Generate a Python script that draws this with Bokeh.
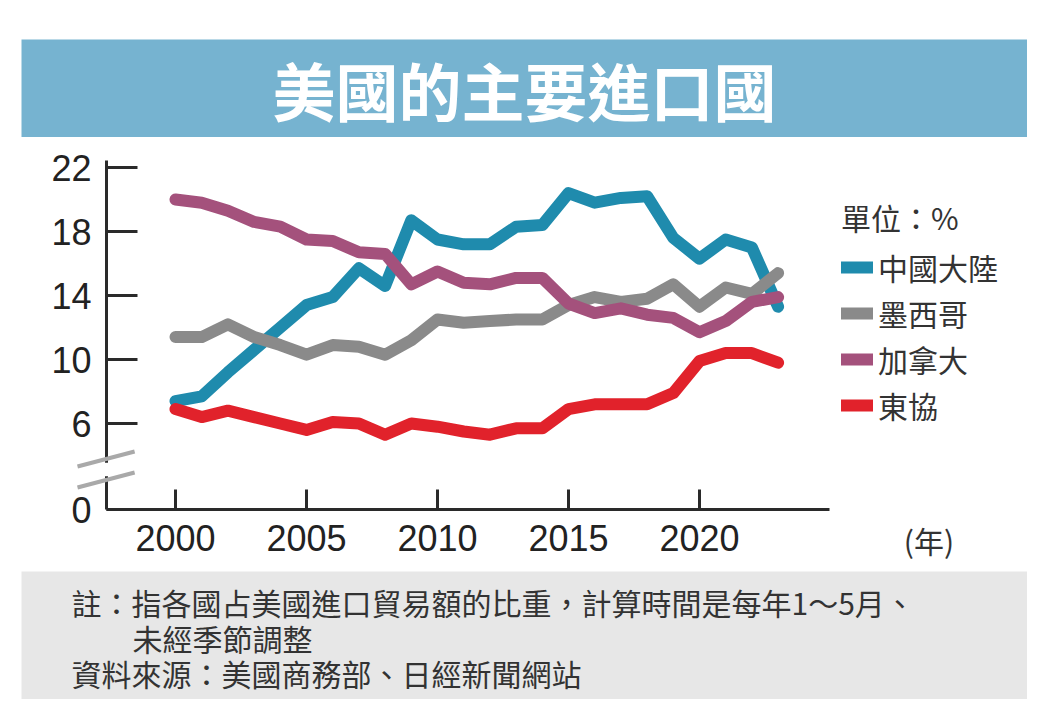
from bokeh.embed import file_html
from bokeh.layouts import column
from bokeh.models import (Arrow, ColumnDataSource, FixedTicker, Label, Legend,
                          LegendItem, Range1d)
from bokeh.plotting import figure
from bokeh.resources import INLINE

# ---------------------------------------------------------------------------
# Data (share of US imports, %, Jan-May of each year)
# ---------------------------------------------------------------------------
YEARS = list(range(2000, 2024))
CHINA = [7.4, 7.7, 9.2, 10.6, 12.0, 13.4, 13.9, 15.7, 14.6, 18.7, 17.5, 17.2,
         17.2, 18.3, 18.4, 20.4, 19.8, 20.1, 20.2, 17.6, 16.3, 17.5, 17.0, 13.3]
MEXICO = [11.4, 11.4, 12.2, 11.4, 10.9, 10.3, 10.9, 10.8, 10.3, 11.2, 12.5, 12.3,
          12.4, 12.5, 12.5, 13.4, 13.9, 13.6, 13.8, 14.7, 13.3, 14.5, 14.1, 15.4]
CANADA = [20.0, 19.8, 19.3, 18.6, 18.3, 17.5, 17.4, 16.7, 16.6, 14.7, 15.5, 14.8,
          14.7, 15.1, 15.1, 13.5, 12.9, 13.2, 12.8, 12.6, 11.7, 12.4, 13.6, 13.9]
ASEAN = [6.9, 6.4, 6.8, 6.4, 6.0, 5.6, 6.1, 6.0, 5.3, 6.0, 5.8, 5.5,
         5.3, 5.7, 5.7, 6.9, 7.2, 7.2, 7.2, 7.9, 9.9, 10.4, 10.4, 9.8]

SERIES = ["中國大陸", "墨西哥", "加拿大", "東協"]
COLORS = ["#1f8bad", "#8a8a8a", "#a4517c", "#e1222b"]

Y_TICKS = [0, 6, 10, 14, 18, 22]
X_TICKS = [2000, 2005, 2010, 2015, 2020]

TITLE = "美國的主要進口國"
UNIT = "單位：%"
NOTE_1 = "註：指各國占美國進口貿易額的比重，計算時間是每年1～5月、"
NOTE_2 = "未經季節調整"
SOURCE = "資料來源：美國商務部、日經新聞網站"

CJK = "Noto Sans CJK TC"
NUM = "Liberation Sans"
CARD_W = 1006

# scale of the chart: px per year / px per percent point
PX_YEAR, PX_PCT = 26.2, 16.0
# the axis is broken between 0 and 6: 0 sits a little below 6
Y_FLOOR = 6 - 86 / PX_PCT
AX_X0, AX_X1 = 1997.37, 2024.96      # extent of the x axis line
AX_Y1 = 22.44                        # top of the y axis line


def panel(height, color):
    # plain coloured strip; data units are card pixels
    f = figure(width=CARD_W, height=height, output_backend="svg",
               toolbar_location=None,
               x_range=Range1d(0, CARD_W), y_range=Range1d(0, height),
               min_border=0, background_fill_color=color,
               border_fill_color=color, outline_line_color=None)
    f.axis.visible = False
    f.grid.visible = False
    return f


# ---------------------------------------------------------------------------
# Banner
# ---------------------------------------------------------------------------
banner = panel(98, "#76b3d0")
banner.add_layout(Label(x=CARD_W / 2, y=49, text=TITLE, text_align="center",
                        text_baseline="middle", text_color="white",
                        text_font=CJK, text_font_style="bold",
                        text_font_size="63px"))

# ---------------------------------------------------------------------------
# Chart: the frame fills the whole white area, the axes sit at fixed spots
# ---------------------------------------------------------------------------
CH_H = 434
x0 = 2000 - 154 / PX_YEAR
y1 = 22 + 30 / PX_PCT
p = figure(width=CARD_W, height=CH_H, output_backend="svg", toolbar_location=None,
           x_range=Range1d(x0, x0 + CARD_W / PX_YEAR),
           y_range=Range1d(y1 - CH_H / PX_PCT, y1),
           min_border=0, outline_line_color=None,
           background_fill_color="white", border_fill_color="white")
p.grid.visible = False

renderers = []
for name, vals, col in zip(SERIES, [CHINA, MEXICO, CANADA, ASEAN], COLORS):
    src = ColumnDataSource(dict(x=YEARS, y=vals))
    r = p.line("x", "y", source=src, line_color=col, line_width=12,
               line_cap="round", line_join="round")
    renderers.append((name, r))

for ax in (p.xaxis[0], p.yaxis[0]):
    ax.axis_line_color = "#2a2a2a"
    ax.axis_line_width = 3
    ax.major_tick_line_color = "#2a2a2a"
    ax.major_tick_line_width = 3
    ax.minor_tick_line_color = None
    ax.major_tick_out = 0
    ax.major_label_text_font = NUM
    ax.major_label_text_font_size = "36px"
    ax.major_label_text_color = "#222222"

ytick_pos = [Y_FLOOR if t == 0 else t for t in Y_TICKS]
p.yaxis.ticker = FixedTicker(ticks=ytick_pos)
p.yaxis.major_label_overrides = {Y_FLOOR: "0"}
p.yaxis.major_tick_in = 31
p.yaxis.major_label_standoff = 15
p.yaxis.fixed_location = AX_X0
p.yaxis.bounds = (Y_FLOOR, AX_Y1)

p.xaxis.ticker = FixedTicker(ticks=X_TICKS)
p.xaxis.major_tick_in = 20
p.xaxis.major_label_standoff = 15
p.xaxis.fixed_location = Y_FLOOR
p.xaxis.bounds = (AX_X0, AX_X1)

# axis break marks
p.add_layout(Arrow(x_start=AX_X0, y_start=3.55, x_end=AX_X0, y_end=2.7,
                   line_color="white", line_width=5, end=None))
for yb in (3.31, 2.0):
    p.add_layout(Arrow(x_start=1996.26, y_start=yb, x_end=1998.44, y_end=yb + 0.94,
                       line_color="#a9a9a9", line_width=4, end=None))

# unit label for the x axis
p.add_layout(Label(x=2027.8, y=-1.25, text="(年)", text_font=CJK,
                   text_font_size="30px", text_color="#333333",
                   text_baseline="middle"))

legend = Legend(items=[LegendItem(label=n, renderers=[r]) for n, r in renderers],
                title=UNIT, title_text_font=CJK, title_text_font_size="30px",
                title_text_color="#333333", title_text_font_style="normal",
                title_standoff=6,
                label_text_font=CJK, label_text_font_size="30px",
                label_text_color="#333333", label_standoff=5,
                glyph_width=32, glyph_height=30, label_height=30, spacing=2,
                padding=0, margin=0, border_line_color=None,
                background_fill_alpha=0, location=(820, 144))
p.add_layout(legend)

# ---------------------------------------------------------------------------
# Footer
# ---------------------------------------------------------------------------
foot = panel(128, "#e7e7e7")
for x, y, t in [(50, 98, NOTE_1), (111, 62, NOTE_2), (50, 27, SOURCE)]:
    foot.add_layout(Label(x=x, y=y, text=t, text_align="left",
                          text_baseline="middle", text_color="#333333",
                          text_font=CJK, text_font_size="30px"))

page = column(banner, p, foot, spacing=0, margin=(39, 0, 0, 21))

open("out.html", "w").write(file_html(page, INLINE))
